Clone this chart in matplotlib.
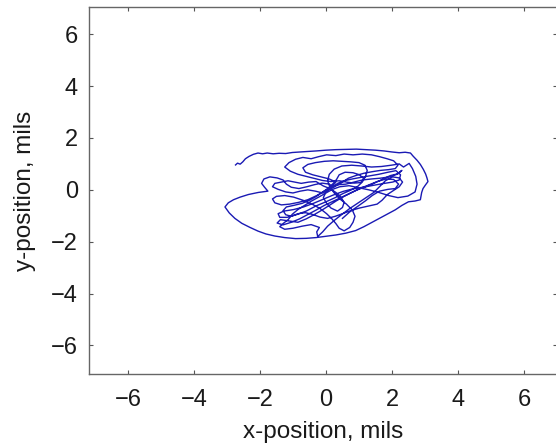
import matplotlib
matplotlib.use("Agg")
import matplotlib.pyplot as plt

plt.rcParams['font.family'] = ['Liberation Sans', 'DejaVu Sans']

x_mils = [
    -2.74, -2.68, -2.60, -2.52, -2.44, -2.33, -2.20, -2.06, -1.92, -1.78,
    -1.60, -1.42, -1.22, -1.02, -0.80, -0.55, -0.30, 0.00, 0.30, 0.62,
    0.92, 1.22, 1.50, 1.76, 2.00, 2.22, 2.40, 2.56, 2.64, 2.76,
    2.86, 2.95, 3.02, 3.06, 3.09, 3.01, 2.94, 2.90, 2.88, 2.86,
    2.70, 2.50, 2.30, 2.10, 1.88, 1.64, 1.40, 1.15, 0.90, 0.60,
    0.30, 0.00, -0.30, -0.60, -0.92, -1.25, -1.55, -1.82, -2.06, -2.30,
    -2.55, -2.76, -2.93, -3.06, -2.96, -2.80, -2.60, -2.35, -2.05, -1.76,
    -1.86, -1.95, -1.88, -1.70, -1.48, -1.30, -1.20, -1.05, -0.82, -0.58,
    -0.35, -0.12, 0.10, 0.22, 0.35, 0.55, 0.80, 1.05, 1.32, 1.60,
    1.88, 2.12, 2.26, 2.22, 2.02, 1.72, 1.42, 1.12, 0.82, 0.52,
    0.22, -0.08, -0.38, -0.68, -0.98, -1.28, -1.45, -1.40, -1.18, -0.90,
    -0.60, -0.30, 0.00, 0.28, 0.52, 0.74, 0.95, 1.10, 1.20, 1.25,
    1.18, 1.00, 0.75, 0.50, 0.22, -0.05, -0.32, -0.55, -0.70, -0.62,
    -0.40, -0.15, 0.10, 0.30, 0.18, -0.05, -0.28, -0.55, -0.82, -1.10,
    -1.35, -1.55, -1.62, -1.50, -1.25, -0.98, -0.70, -0.42, -0.18, 0.02,
    0.18, 0.30, 0.40, 0.55, 0.72, 0.82, 0.88, 0.80, 0.62, 0.42,
    0.25, 0.12, 0.05, 0.10, 0.25, 0.48, 0.78, 1.08, 1.38, 1.68,
    1.98, 2.22, 2.35, 2.52, 2.62, 2.72, 2.76, 2.70, 2.48, 2.18,
    1.90, 1.60, 1.30, 1.00, 0.70, 0.42, 0.20, 0.00, -0.22, -0.45,
    -0.65, -0.85, -1.02, -1.14, -1.30, -1.40, -1.25, -1.00, -0.72, -0.45,
    -0.20, -0.28, -0.25, -0.10, 0.05, 0.25, 0.48, 0.72, 0.98, 1.22,
    1.45, 1.62, 1.80, 2.02, 2.22, 2.32, 2.22, 2.05, 1.86, 1.70,
    1.55, 1.30, 1.02, 0.75, 0.50, 0.28, 0.05, -0.18, -0.40, -0.62,
    -0.85, -1.05, -1.22, -1.30, -1.20, -0.98, -0.72, -0.50, -0.30, -0.12,
    0.05, 0.20, 0.32, 0.40, 0.58, 0.82, 1.02, 1.15, 1.05, 0.85,
    0.62, 0.40, 0.15, -0.10, -0.35, -0.60, -0.85, -1.08, -1.25, -1.12,
    -0.92, -0.70, -0.45, -0.22, 0.02, 0.30, 0.55, 0.82, 1.10, 1.38,
    1.62, 1.85, 2.05, 2.18, 2.10, 1.90, 1.65, 1.40, 1.15, 0.90,
    0.68, 0.48, 0.30, 0.10, -0.10, -0.32, -0.55, -0.78, -1.00, -1.22,
    -1.45, -1.62, -1.55, -1.35, -1.15, -0.95, -0.75, -0.52, -0.30, -0.08,
    0.12, 0.30, 0.45, 0.55, 0.50, 0.35, 0.15, 0.02, -0.08, 0.00,
    0.15, 0.38, 0.60, 0.85, 1.10, 1.38, 1.65, 1.92, 2.15, 2.30,
    2.18, 1.95, 1.70, 1.45, 1.20, 0.95, 0.70, 0.45, 0.20, -0.05,
    -0.30, -0.55, -0.80, -1.05, -1.30, -1.48, -1.38, -1.12, -0.85, -0.60,
    -0.35, -0.12, 0.10, 0.32, 0.55, 0.78, 1.02, 1.28, 1.55, 1.82,
    2.05, 2.20, 2.10, 1.88, 1.62, 1.40, 1.20, 0.98, 0.72, 0.50,
]
y_mils = [
    0.96, 1.03, 0.99, 1.08, 1.20, 1.29, 1.37, 1.42, 1.39, 1.42,
    1.39, 1.41, 1.40, 1.44, 1.46, 1.48, 1.50, 1.53, 1.55, 1.56,
    1.57, 1.55, 1.53, 1.50, 1.46, 1.43, 1.45, 1.42, 1.30, 1.14,
    0.98, 0.79, 0.61, 0.46, 0.32, 0.18, 0.05, -0.10, -0.25, -0.38,
    -0.43, -0.46, -0.60, -0.77, -0.92, -1.08, -1.25, -1.42, -1.57, -1.67,
    -1.74, -1.79, -1.84, -1.87, -1.88, -1.84, -1.78, -1.70, -1.59, -1.45,
    -1.29, -1.10, -0.89, -0.66, -0.50, -0.38, -0.28, -0.18, -0.10, -0.05,
    0.10, 0.25, 0.42, 0.50, 0.46, 0.38, 0.22, 0.10, 0.05, 0.12,
    0.20, 0.26, 0.22, 0.10, 0.25, 0.35, 0.42, 0.48, 0.54, 0.60,
    0.68, 0.74, 0.58, 0.38, 0.30, 0.24, 0.17, 0.10, 0.04, -0.06,
    -0.20, -0.36, -0.52, -0.66, -0.76, -0.82, -0.92, -1.06, -1.06, -0.96,
    -0.82, -0.62, -0.46, -0.30, -0.14, -0.02, 0.12, 0.30, 0.52, 0.75,
    0.95, 1.05, 1.08, 1.10, 1.12, 1.10, 1.05, 0.98, 0.85, 0.68,
    0.58, 0.50, 0.42, 0.30, 0.12, -0.05, -0.22, -0.38, -0.48, -0.55,
    -0.58, -0.50, -0.35, -0.25, -0.22, -0.28, -0.40, -0.55, -0.72, -0.92,
    -1.12, -1.30, -1.48, -1.58, -1.45, -1.25, -1.02, -0.78, -0.55, -0.35,
    -0.12, 0.10, 0.35, 0.60, 0.80, 0.92, 0.95, 0.92, 0.88, 0.90,
    0.95, 1.00, 0.88, 1.02, 0.82, 0.52, 0.22, -0.08, -0.24, -0.30,
    -0.22, -0.10, 0.00, 0.08, 0.16, 0.12, 0.02, -0.12, -0.28, -0.44,
    -0.60, -0.76, -0.94, -1.14, -1.30, -1.42, -1.52, -1.48, -1.40, -1.34,
    -1.45, -1.62, -1.80, -1.62, -1.40, -1.18, -0.95, -0.72, -0.50, -0.30,
    -0.10, 0.12, 0.35, 0.50, 0.46, 0.30, 0.12, -0.02, -0.18, -0.40,
    -0.55, -0.62, -0.70, -0.80, -0.92, -1.02, -1.10, -1.05, -0.95, -0.88,
    -0.92, -1.02, -0.96, -0.80, -0.66, -0.60, -0.52, -0.40, -0.26, -0.10,
    0.05, 0.22, 0.40, 0.58, 0.68, 0.66, 0.58, 0.42, 0.28, 0.26,
    0.30, 0.35, 0.32, 0.36, 0.44, 0.52, 0.60, 0.72, 0.88, 1.05,
    1.18, 1.25, 1.20, 1.28, 1.35, 1.32, 1.38, 1.35, 1.38, 1.35,
    1.28, 1.20, 1.12, 0.95, 0.82, 0.78, 0.75, 0.70, 0.64, 0.55,
    0.45, 0.28, 0.15, 0.02, -0.12, -0.05, 0.00, -0.05, -0.12, -0.08,
    0.02, 0.12, 0.25, 0.30, 0.35, 0.30, 0.25, 0.30, 0.32, 0.15,
    0.05, -0.10, -0.28, -0.48, -0.68, -0.82, -0.70, -0.52, -0.30, -0.08,
    0.12, 0.20, 0.22, 0.30, 0.38, 0.42, 0.45, 0.50, 0.60, 0.75,
    0.62, 0.55, 0.40, 0.25, 0.12, 0.00, -0.15, -0.30, -0.45, -0.60,
    -0.78, -0.95, -1.12, -1.25, -1.35, -1.28, -1.15, -1.20, -1.25, -1.12,
    -0.95, -0.78, -0.60, -0.42, -0.25, -0.10, 0.05, 0.18, 0.32, 0.42,
    0.40, 0.22, 0.05, 0.02, -0.05, -0.22, -0.42, -0.62, -0.85, -1.10,
]
tick_values = [-6, -4, -2, 0, 2, 4, 6]

fig = plt.figure(figsize=(5.56, 4.46), dpi=100)
ax = fig.add_axes([89 / 556, 72 / 446, (557 - 89) / 556, (374 - 7) / 446])
ax.plot(x_mils, y_mils, color='#1a1ab4', linewidth=1.0)
ax.set_xlim(-7.18, 7.0)
ax.set_ylim(-7.1, 7.05)
ax.set_xticks(tick_values)
ax.set_yticks(tick_values)
for s in ax.spines.values():
    s.set_color('#666666')
    s.set_linewidth(1.0)
ax.tick_params(direction='in', length=3, width=0.8, color='#555555',
               top=True, right=True, labelsize=17, labelcolor='#1a1a1a')
ax.tick_params(axis='x', pad=11)
ax.tick_params(axis='y', pad=8)
ax.set_xlabel('x-position, mils', fontsize=17.5, color='#1a1a1a', labelpad=7)
ax.set_ylabel('y-position, mils', fontsize=17.5, color='#1a1a1a', labelpad=11)
fig.savefig('out.png', dpi=100)
